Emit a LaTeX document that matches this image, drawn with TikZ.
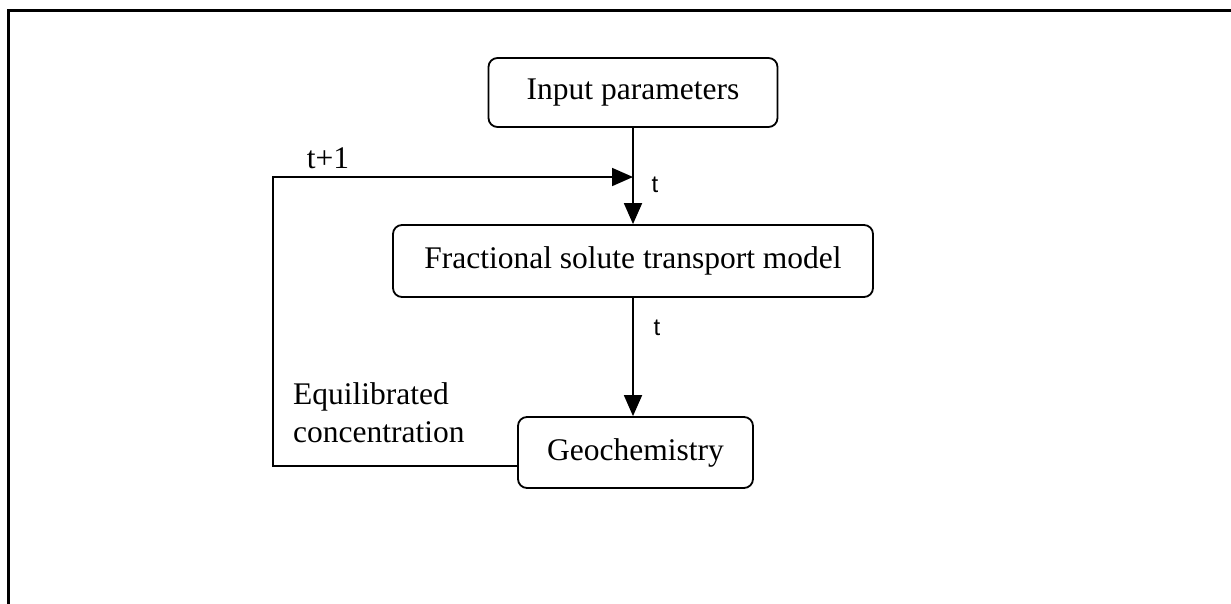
\documentclass[tikz,border=0pt]{standalone}
\usepackage{fontspec}
\setmainfont{Liberation Serif}
\newfontfamily\lblsans{Liberation Sans}
\usetikzlibrary{arrows.meta}
\begin{document}
\begin{tikzpicture}[x=1pt,y=-1pt,
  box/.style={draw,line width=1.8pt,rounded corners=9pt,inner sep=0pt,
    font=\fontsize{31.5}{38}\selectfont},
  conn/.style={line width=1.8pt},
  arr/.style={conn,-{Triangle[length=21pt,width=18pt]}},
  lbl/.style={inner sep=0pt,font=\fontsize{31.5}{38}\selectfont},
  tlbl/.style={inner sep=0pt,font=\lblsans\fontsize{24}{28}\selectfont}]
\useasboundingbox (0,0) rectangle (1231,603);
\draw[line width=2.6pt] (8.5,610) -- (8.5,10.5) -- (1240,10.5);
\node[box,minimum width=289pt,minimum height=69pt] (in) at (633,92.5) {Input parameters};
\node[box,minimum width=480pt,minimum height=72pt] (frac) at (633,261) {Fractional solute transport model};
\node[box,minimum width=235pt,minimum height=71pt] (geo) at (635.5,452.5) {Geochemistry};
\coordinate (j) at (633,177);
\coordinate (fb) at (518,466);
\coordinate (lc) at (273,466);
\draw[conn] (in.south) -- (j);
\draw[arr] (j) -- (frac.north);
\draw[arr] (frac.south) -- (frac.south |- geo.north);
\draw[arr] (fb) -- (lc) |- (j);
\node[lbl] (tp1) at (328,158) {t+1};
\node[tlbl] (t1) at (655,185) {t};
\node[tlbl] (t2) at (657,328) {t};
\node[lbl,anchor=north west,align=left] (eq) at (293,382) {Equilibrated\\concentration};
\end{tikzpicture}
\end{document}
